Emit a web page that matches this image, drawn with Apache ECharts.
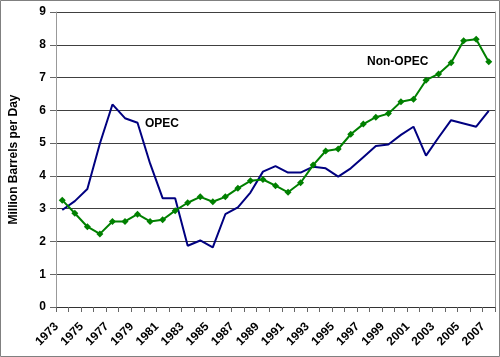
<!DOCTYPE html>
<html><head><meta charset="utf-8">
<script src="https://cdn.jsdelivr.net/npm/echarts@6/dist/echarts.min.js"></script>
<style>html,body{margin:0;padding:0;background:#fff}#c{width:500px;height:357px}</style>
</head><body><div id="c"></div>
<script>
var years = [];
for (var y = 1973; y <= 2007; y++) years.push(String(y));
var opec = [2.96,3.23,3.60,4.99,6.18,5.76,5.62,4.38,3.32,3.32,1.87,2.03,1.82,2.83,3.04,3.49,4.13,4.30,4.10,4.10,4.28,4.23,3.98,4.23,4.57,4.91,4.96,5.25,5.50,4.62,5.17,5.70,5.60,5.50,5.98];
var nonOpec = [3.26,2.86,2.45,2.23,2.61,2.61,2.83,2.61,2.66,2.94,3.18,3.36,3.21,3.36,3.62,3.85,3.89,3.70,3.50,3.79,4.33,4.76,4.82,5.27,5.58,5.79,5.90,6.26,6.34,6.92,7.11,7.45,8.12,8.17,7.48];
var yTitle = 'Million Barrels per Day';
var font = '"Liberation Sans", Arial, sans-serif';
var chart = echarts.init(document.getElementById('c'), null, {renderer:'canvas'});
chart.setOption({
  animation:false,
  backgroundColor:'#fff',
  grid:{left:56,right:5,top:12,bottom:50},
  xAxis:{type:'category',data:years,boundaryGap:true,
    axisLine:{show:true,lineStyle:{color:'#333',width:1}},
    axisTick:{show:true,interval:0,length:5,lineStyle:{color:'#666'}},
    axisLabel:{interval:1,rotate:45,fontFamily:font,fontWeight:'bold',fontSize:12,color:'#000',margin:12,padding:[0,8,0,0]}},
  yAxis:[{type:'value',min:0,max:9,interval:1,
    name:yTitle,nameLocation:'middle',nameGap:36,nameRotate:90,
    nameTextStyle:{fontFamily:font,fontWeight:'bold',fontSize:12,color:'#000'},
    axisLine:{show:true,lineStyle:{color:'#999'}},
    axisTick:{show:true,length:6,lineStyle:{color:'#666'}},
    axisLabel:{fontFamily:font,fontWeight:'bold',fontSize:12,color:'#000',margin:10},
    splitLine:{show:true,lineStyle:{color:'#404040',width:1}}},
   {type:'value',min:0,max:9,interval:1,position:'right',
    axisLine:{show:true,lineStyle:{color:'#999'}},axisTick:{show:false},axisLabel:{show:false},splitLine:{show:false}}],
  series:[
    {name:'OPEC',type:'line',data:opec,symbol:'none',lineStyle:{color:'#000080',width:2},itemStyle:{color:'#000080'},z:3},
    {name:'Non-OPEC',type:'line',data:nonOpec,symbol:'diamond',symbolSize:7,lineStyle:{color:'#008000',width:2},itemStyle:{color:'#008000'},z:4}
  ],
  graphic:[
    {type:'rect',shape:{x:0.5,y:0.5,width:499,height:356},style:{fill:'none',stroke:'#808080',lineWidth:1},z:-1},
    {type:'text',left:145,top:118,style:{text:'OPEC',font:'bold 12px '+font,fill:'#000'}},
    {type:'text',left:367,top:56,style:{text:'Non-OPEC',font:'bold 12px '+font,fill:'#000'}}
  ]
});
</script></body></html>
